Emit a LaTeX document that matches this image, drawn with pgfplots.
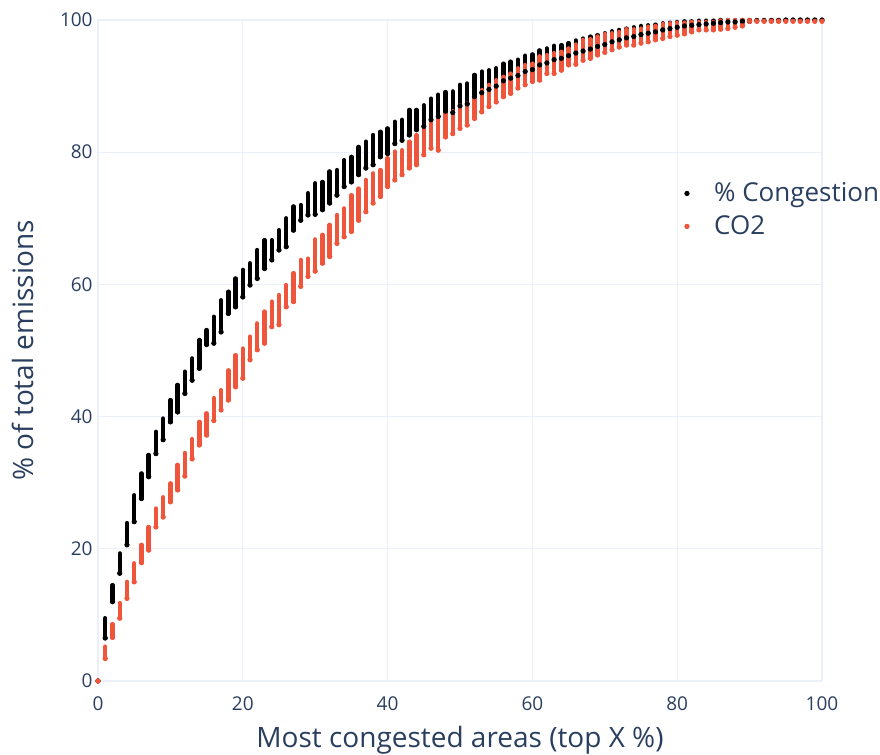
\documentclass[border=0pt]{standalone}
\usepackage{pgfplots}
\usepackage{pgfplotstable}
\pgfplotsset{compat=1.18}
\usepackage{fontspec}
\setmainfont{Open Sans}
\definecolor{plotlytext}{HTML}{2A3F5F}
\definecolor{plotlygrid}{HTML}{EBF0F8}
\definecolor{co2}{HTML}{EF553B}

\pgfplotstableread{
x lo hi
0 0 0
1 6.5 9.5
2 12.0 14.5
3 16.3 19.3
4 20.6 23.9
5 24.1 28.1
6 27.6 31.4
7 30.9 34.2
8 34.4 37.7
9 36.5 39.7
10 39.2 42.5
11 40.7 44.8
12 43.5 46.8
13 45.5 48.8
14 47.3 51.6
15 50.9 53.1
16 51.1 55.1
17 52.8 57.6
18 55.6 58.9
19 56.6 60.9
20 58.1 62.2
21 59.9 63.2
22 60.9 65.2
23 62.4 66.7
24 63.7 66.7
25 65.2 68.2
26 65.7 70.0
27 68.2 71.8
28 69.7 72.0
29 70.5 73.8
30 70.6 75.3
31 71.3 75.5
32 72.3 77.1
33 73.5 77.3
34 74.8 78.8
35 75.5 79.3
36 76.6 80.8
37 77.6 81.6
38 78.1 82.6
39 79.3 83.1
40 79.8 83.6
41 81.3 84.6
42 81.8 84.9
43 82.6 86.4
44 83.4 86.4
45 83.9 87.1
46 84.9 88.1
47 85.4 88.7
48 86.2 89.1
49 86.0 89.2
50 87.0 90.2
51 87.3 90.4
52 88.4 91.7
53 89.0 92.2
54 89.5 92.4
55 90.0 92.7
56 90.8 93.4
57 91.2 93.7
58 91.6 94.0
59 92.2 94.6
60 92.5 94.8
61 93.2 95.4
62 93.5 95.7
63 94.0 96.1
64 94.2 96.2
65 94.6 96.5
66 95.0 96.9
67 95.3 97.2
68 95.6 97.5
69 96.0 97.7
70 96.3 98.0
71 96.7 98.3
72 97.0 98.5
73 97.3 98.7
74 97.5 98.9
75 97.8 99.1
76 98.0 99.2
77 98.2 99.3
78 98.5 99.5
79 98.7 99.6
80 98.9 99.7
81 99.1 99.8
82 99.2 99.8
83 99.3 99.9
84 99.4 99.9
85 99.5 99.9
86 99.6 100
87 99.7 100
88 99.7 100
89 99.8 100
90 99.8 100
91 99.9 100
92 99.9 100
93 99.9 100
94 99.9 100
95 100 100
96 100 100
97 100 100
98 100 100
99 100 100
100 100 100
}\congestion

\pgfplotstableread{
x lo hi
0 0 0
1 3.4 5.2
2 6.6 8.6
3 9.5 11.8
4 12.5 15.0
5 15.0 17.8
6 17.9 20.6
7 19.8 23.3
8 23.3 26.1
9 24.8 27.8
10 27.1 29.9
11 28.9 32.7
12 31.0 34.5
13 33.6 36.6
14 35.7 39.2
15 37.2 40.5
16 39.4 42.8
17 41.0 44.0
18 42.5 47.0
19 44.5 49.3
20 45.8 50.3
21 48.6 52.1
22 50.1 54.1
23 51.1 55.9
24 53.6 57.4
25 53.9 58.4
26 56.6 59.9
27 57.4 61.7
28 59.7 63.7
29 61.2 63.9
30 62.0 66.8
31 63.2 67.5
32 64.2 69.0
33 66.2 70.5
34 67.2 71.5
35 68.0 73.5
36 69.7 74.5
37 71.0 75.8
38 72.3 76.8
39 73.3 77.3
40 74.8 79.1
41 75.8 80.1
42 76.6 80.3
43 77.6 81.6
44 78.1 82.6
45 79.6 83.6
46 80.6 84.4
47 80.3 85.1
48 82.3 85.9
49 82.8 86.2
50 83.6 87.1
51 84.1 87.4
52 85.1 88.4
53 86.1 89.4
54 86.9 90.2
55 87.6 90.9
56 88.4 91.4
57 88.9 91.9
58 89.7 92.7
59 90.2 93.2
60 90.7 93.4
61 90.9 94.5
62 91.9 94.7
63 91.9 95.0
64 92.4 95.2
65 93.2 95.7
66 93.3 96.3
67 93.9 97.0
68 94.2 97.1
69 94.7 97.5
70 95.1 97.9
71 95.5 98.0
72 95.9 98.2
73 96.2 98.6
74 96.2 98.6
75 96.5 98.7
76 96.7 99.0
77 97.0 99.1
78 97.2 99.4
79 97.5 99.5
80 97.7 99.6
81 97.9 99.6
82 98.2 99.7
83 98.5 99.7
84 98.5 99.7
85 98.5 99.7
86 98.6 99.9
87 98.7 100
88 98.9 100
89 99.1 100
90 99.8 100
91 99.8 100
92 99.8 100
93 99.8 100
94 99.8 100
95 99.8 100
96 99.8 100
97 99.8 100
98 99.8 100
99 99.8 100
100 99.8 100
}\cotwo

\begin{document}
\begin{tikzpicture}
\begin{axis}[
  scale only axis,
  width=362pt, height=330.5pt,
  xmin=0, xmax=100, ymin=0, ymax=100,
  xtick={0,20,...,100}, ytick={0,20,...,100},
  axis line style={draw=none},
  major tick length=0pt,
  grid=major,
  major grid style={color=plotlygrid, line width=0.6pt},
  clip=false,
  tick label style={font=\fontsize{9.5}{11}\selectfont, text=plotlytext},
  /pgf/number format/assume math mode=true,
  xticklabel style={inner sep=0pt, anchor=north, yshift=-7.5pt},
  yticklabel style={inner sep=0pt, anchor=east, xshift=-2.5pt},
  legend style={at={(rel axis cs:0.8016,0.767)}, anchor=north west, draw=none, fill=none,
    font=\fontsize{13}{15}\selectfont, text=plotlytext, row sep=1.5pt},
  legend cell align=left,
]
\addlegendimage{only marks, mark=*, mark size=1.1pt, black, mark options={draw=none}}
\addlegendentry{\hspace*{10.5pt}\% Congestion}
\addlegendimage{only marks, mark=*, mark size=1.1pt, co2, mark options={draw=none}}
\addlegendentry{\hspace*{10.5pt}CO2}

\addplot[forget plot, only marks, mark=*, mark size=1.1pt, black, mark options={draw=none},
  error bars/.cd, y dir=plus, y explicit, error mark=none,
  error bar style={line width=2.2pt, line cap=round, black}]
  table[x=x, y=lo, y error expr=\thisrow{hi}-\thisrow{lo}] {\congestion};
\addplot[forget plot, only marks, mark=*, mark size=1.1pt, co2, mark options={draw=none},
  error bars/.cd, y dir=plus, y explicit, error mark=none,
  error bar style={line width=2.2pt, line cap=round, co2}]
  table[x=x, y=lo, y error expr=\thisrow{hi}-\thisrow{lo}] {\cotwo};

\coordinate (sw) at (rel axis cs:0,0);
\coordinate (ne) at (rel axis cs:1,1);
\coordinate (ml) at (rel axis cs:0,0.5);
\coordinate (mb) at (rel axis cs:0.5,0);
\end{axis}
\node[rotate=90, anchor=center, font=\fontsize{14}{16}\selectfont, text=plotlytext] at ([xshift=-37.5pt]ml) {\% of total emissions};
\node[anchor=center, font=\fontsize{14}{16}\selectfont, text=plotlytext] at ([yshift=-29.5pt]mb) {Most congested areas (top X \%)};
\pgfresetboundingbox
\path[use as bounding box] ([shift={(-49pt,-37pt)}]sw) rectangle ([shift={(29pt,10pt)}]ne);
\end{tikzpicture}
\end{document}
